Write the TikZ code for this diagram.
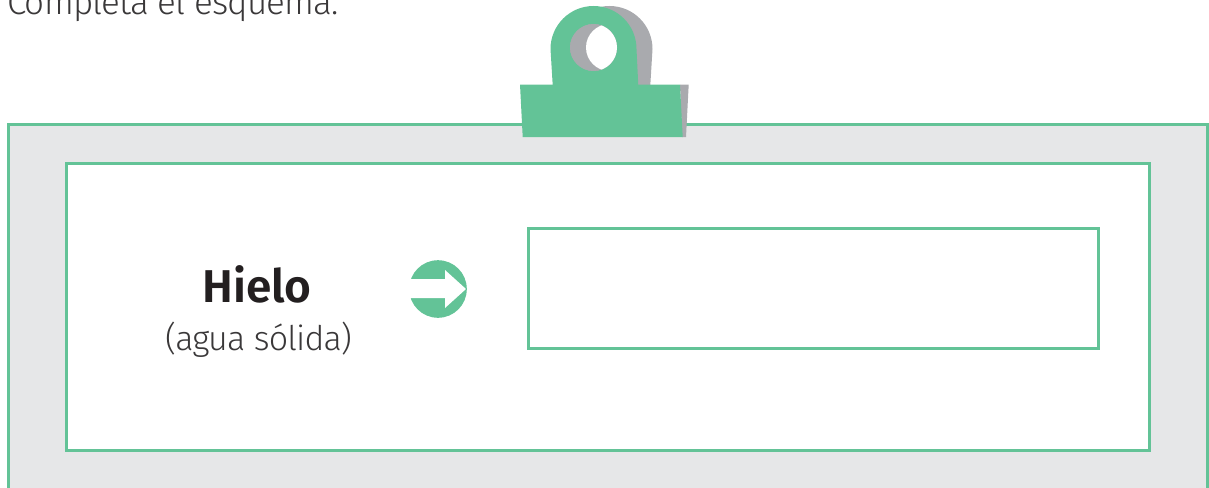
\documentclass[tikz,border=0pt]{standalone}
\usepackage{fontspec}
\setmainfont{Fira Sans Light}[BoldFont={Fira Sans SemiBold}]
\newfontfamily\tightlight{Fira Sans Light}[LetterSpace=-2.5]
\definecolor{clipgreen}{HTML}{63C397}
\definecolor{clipgrey}{HTML}{A9AAAE}
\definecolor{panelgrey}{HTML}{E6E7E8}
\definecolor{inkdark}{HTML}{231F20}
\definecolor{inklight}{HTML}{3A3839}
\tikzset{
  greenline/.style={draw=clipgreen,line width=3pt},
  labeltext/.style={inner sep=0pt,anchor=base,text=inklight},
}
\begin{document}
\begin{tikzpicture}[x=1pt,y=-1pt]
\useasboundingbox (0,0) rectangle (1209,487);
\clip (0,0) rectangle (1209,487);
% frame
\path[fill=panelgrey,greenline] (8,124.3) -- (1207,124.3) -- (1207,500) -- (8,500) -- cycle;
\path[fill=white,greenline] (66,163.3) rectangle (1149,450.3);
\node[greenline,fill=white,minimum width=570pt,minimum height=120pt,inner sep=0pt] (answer) at (813,288.3) {};
% clip: grey shadow
\fill[clipgrey] (569,90) -- (566.5,49) arc[start angle=180,end angle=360,radius=43] -- (650,90) -- cycle;
\fill[clipgrey] (680,84.5) -- (688.7,84.5) -- (686,137) -- (682,137) -- cycle;
% clip: green loop with hole
\fill[clipgreen,even odd rule] (553,90) -- (550.5,49) arc[start angle=180,end angle=360,radius=43] -- (638.5,90) -- cycle
  (617,47.5) arc[start angle=0,end angle=360,radius=23.5];
% grey inside hole, white lens
\begin{scope}
  \clip (593.5,47.5) circle[radius=23.5];
  \fill[clipgrey] (593.5,47.5) circle[radius=23.5];
  \fill[white] (609.5,47.5) circle[radius=23.5];
\end{scope}
\fill[clipgreen] (520,84.5) -- (680,84.5) -- (682.7,137) -- (522.7,137) -- cycle;
% arrow
\fill[clipgreen] (438,289) circle[radius=28.8];
\fill[white] (405,279) -- (445,279) -- (445,270) -- (466,289) -- (445,308) -- (445,298) -- (405,298) -- cycle;
% texts
\node[labeltext,font=\fontsize{35}{36}\tightlight] (task) at (173,15) {Completa el esquema.};
\node[labeltext,text=inkdark,font=\fontsize{46}{46}\selectfont\bfseries] (ice) at (257,302) {Hielo};
\node[labeltext,font=\fontsize{34}{36}\tightlight] (state) at (258.5,350) {(agua sólida)};
\end{tikzpicture}
\end{document}
